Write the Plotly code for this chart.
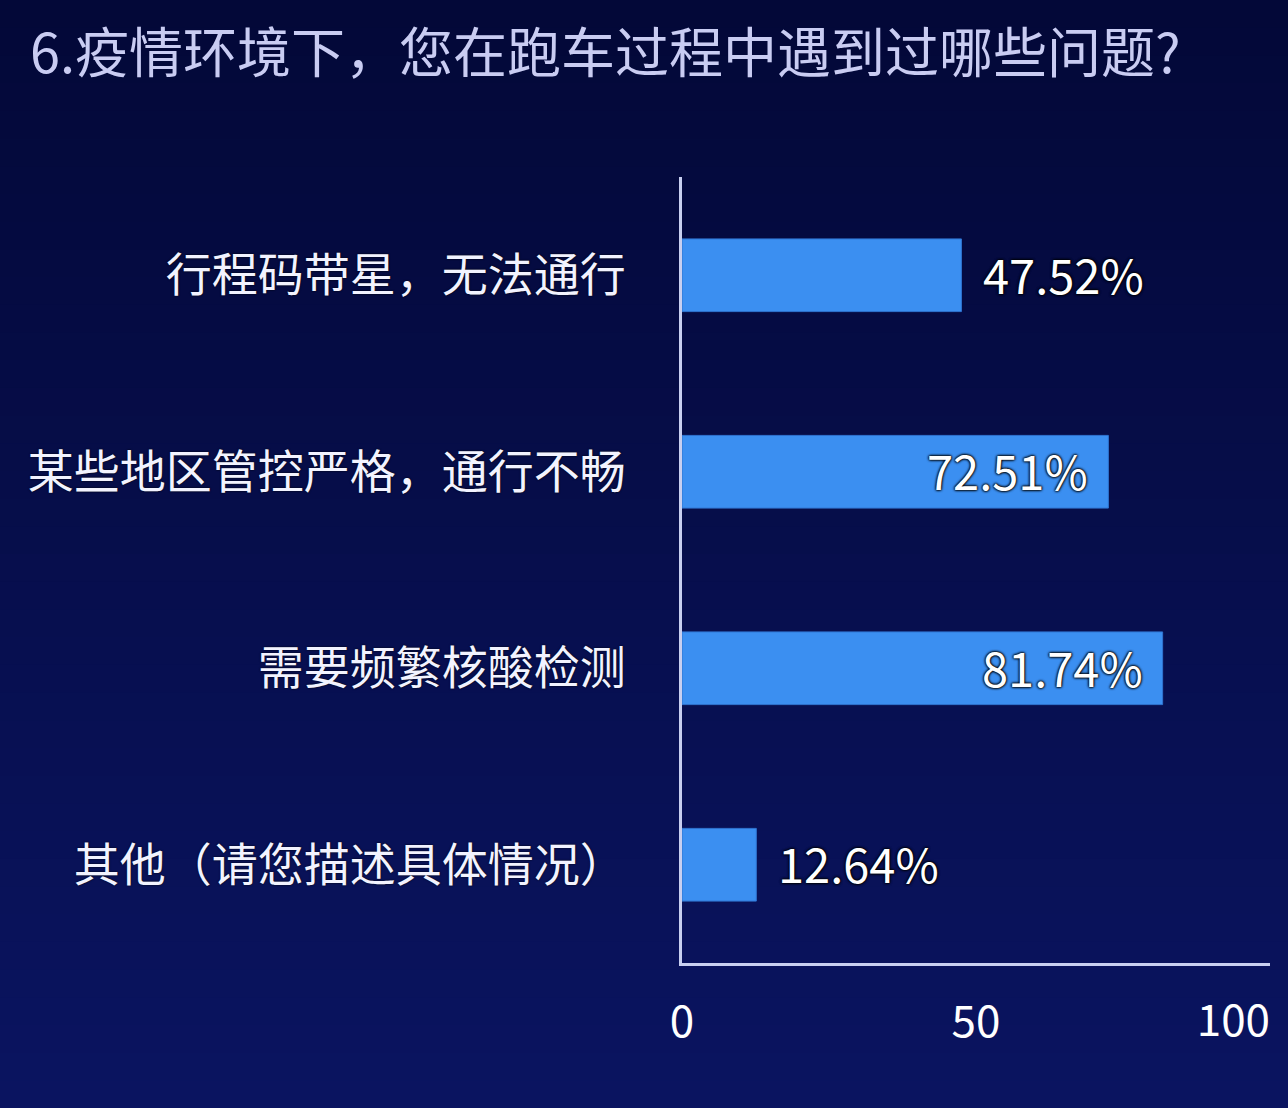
import plotly.graph_objects as go

# Data
categories = ["行程码带星，无法通行", "某些地区管控严格，通行不畅", "需要频繁核酸检测", "其他（请您描述具体情况）"]
percent = [47.52, 72.51, 81.74, 12.64]
tick_vals = [0, 50]
tick_vals_end = [100]

W, H = 1288, 1108
ML, MR, MT, MB = 682, 18, 177, 145
font_cjk = "Noto Sans CJK SC"

fig = go.Figure()

fig.add_trace(go.Bar(
    x=percent,
    y=categories,
    orientation="h",
    width=0.37,
    marker=dict(color="#3b8ff1", line=dict(color="#2f74d0", width=1)),
    hoverinfo="skip",
    showlegend=False,
))

# invisible trace so the second x axis (for the "100" label) is drawn
fig.add_trace(go.Scatter(
    x=percent, y=categories, xaxis="x2", mode="markers",
    marker=dict(opacity=0), hoverinfo="skip", showlegend=False,
))

# value labels: outside the bar unless it would run past the axis end
annotations = []
for cat, v in zip(categories, percent):
    inside = v > 60
    annotations.append(dict(
        x=v, y=cat, xref="x", yref="y",
        text=f"{v:.2f}%",
        showarrow=False,
        xanchor="right" if inside else "left",
        xshift=-18 if inside else 20,
        yanchor="middle", yshift=2,
        font=dict(family=font_cjk, size=47, color="white",
                  shadow="0px 0px 3px #000, 0px 0px 3px #000, 0px 0px 2px #000"),
    ))

# background gradient as stacked bands (pixel rows -> paper coords)
pw, ph = W - ML - MR, H - MT - MB
shapes = []
top = (3, 8, 56)
bot = (10, 20, 96)
n = 40
for i in range(n):
    t = i / (n - 1)
    c = tuple(round(a + (b - a) * t) for a, b in zip(top, bot))
    py0, py1 = H * i / n, H * (i + 1) / n + 2
    shapes.append(dict(
        type="rect", xref="paper", yref="paper", layer="below",
        x0=-ML / pw - 0.05, x1=1 + MR / pw + 0.05,
        y0=(H - MB - py1) / ph, y1=(H - MB - py0) / ph,
        fillcolor="rgb(%d,%d,%d)" % c, line=dict(width=0),
    ))

fig.update_layout(
    width=W, height=H,
    margin=dict(l=ML, r=MR, t=MT, b=MB),
    paper_bgcolor="#060c44",
    plot_bgcolor="rgba(0,0,0,0)",
    shapes=shapes,
    annotations=annotations,
    title=dict(
        text="6.疫情环境下，您在跑车过程中遇到过哪些问题?",
        x=30 / W, xanchor="left", xref="container",
        y=1 - 54 / H, yanchor="middle", yref="container",
        font=dict(family=font_cjk, size=54, color="#c9ccf2"),
    ),
    xaxis=dict(
        range=[0, 100], tickvals=tick_vals, ticks="",
        showgrid=False, zeroline=False,
        showline=True, linecolor="#c8cff0", linewidth=3,
        tickfont=dict(family=font_cjk, size=44, color="white"),
        ticklabelstandoff=18,
        fixedrange=True,
    ),
    xaxis2=dict(
        range=[0, 100], overlaying="x", anchor="y", side="bottom",
        tickvals=tick_vals_end, ticks="", ticklabelposition="outside left",
        showgrid=False, zeroline=False, showline=False,
        tickfont=dict(family=font_cjk, size=44, color="white"),
        ticklabelstandoff=28,
    ),
    yaxis=dict(
        autorange="reversed",
        showgrid=False, zeroline=False, ticks="",
        showline=True, linecolor="#c8cff0", linewidth=3,
        tickfont=dict(family=font_cjk, size=46, color="#f2f3ff",
                      shadow="0px 0px 2px #000"),
        ticklabelstandoff=44,
    ),
)

fig.write_html("out.html", config={"displayModeBar": False},
               post_script="document.body.style.margin='0px';")
